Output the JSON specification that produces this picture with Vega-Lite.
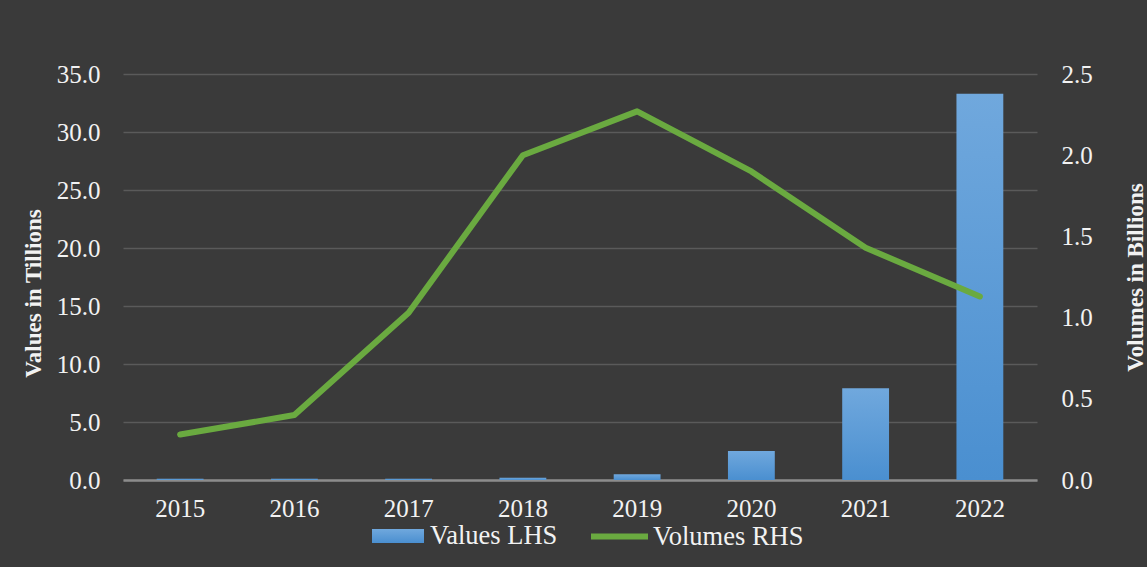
{
  "$schema": "https://vega.github.io/schema/vega-lite/v6.json",
  "autosize": {"type": "none"},
  "width": 914,
  "height": 406,
  "padding": {"left": 123, "top": 74, "right": 110, "bottom": 87},
  "background": "#3a3a3a",
  "config": {
    "view": {"stroke": null},
    "font": "Liberation Serif",
    "axis": {"labelFont": "Liberation Serif", "titleFont": "Liberation Serif", "labelColor": "#f2f2f2", "titleColor": "#f2f2f2", "labelFontSize": 25, "titleFontSize": 23, "titleFontWeight": "bold", "ticks": false},
    "legend": {"labelFont": "Liberation Serif", "labelFontSize": 26.5, "labelColor": "#f2f2f2", "title": null}
  },
  "data": {"values": [
    {"year": "2015", "values": 0.1, "volumes": 0.28},
    {"year": "2016", "values": 0.1, "volumes": 0.40},
    {"year": "2017", "values": 0.1, "volumes": 1.03},
    {"year": "2018", "values": 0.2, "volumes": 2.0},
    {"year": "2019", "values": 0.5, "volumes": 2.27},
    {"year": "2020", "values": 2.5, "volumes": 1.90},
    {"year": "2021", "values": 7.9, "volumes": 1.43},
    {"year": "2022", "values": 33.3, "volumes": 1.13}
  ]},
  "encoding": {
    "x": {"field": "year", "type": "ordinal", "scale": {"paddingInner": 0.59, "paddingOuter": 0.295},
      "axis": {"title": null, "labelAngle": 0, "labelPadding": 16, "domainColor": "#8c8c8c", "domainWidth": 2.5, "grid": false}}
  },
  "layer": [
    {
      "mark": {"type": "bar", "fill": {"gradient": "linear", "x1": 0, "y1": 0, "x2": 0, "y2": 1, "stops": [{"offset": 0, "color": "#70a8dd"}, {"offset": 1, "color": "#4a8fd0"}]}},
      "encoding": {
        "y": {"field": "values", "type": "quantitative", "scale": {"domain": [0, 35]},
          "axis": {"title": "Values in Tillions", "values": [0, 5, 10, 15, 20, 25, 30, 35], "format": ".1f", "labelPadding": 23, "titlePadding": 11, "titleY": 219, "domain": false, "grid": true, "gridColor": "#5a5a5a", "gridWidth": 1.5}},
        "opacity": {"datum": "Values LHS", "type": "nominal", "scale": {"range": [1]},
          "legend": {"orient": "none", "legendX": 249, "legendY": 436, "symbolType": "M-1,-0.27H1V0.27H-1Z", "symbolSize": 2704, "symbolFillColor": "#5b9bd5", "symbolStrokeWidth": 0, "labelOffset": 6}}
      }
    },
    {
      "mark": {"type": "line", "strokeWidth": 6, "strokeCap": "round", "strokeJoin": "round"},
      "encoding": {
        "y": {"field": "volumes", "type": "quantitative", "scale": {"domain": [0, 2.5]},
          "axis": {"title": "Volumes in Billions", "orient": "right", "values": [0, 0.5, 1, 1.5, 2, 2.5], "format": ".1f", "labelPadding": 24, "titlePadding": 32, "titleY": 203, "titleAngle": -90, "titleBaseline": "top", "domain": false, "grid": false}},
        "stroke": {"datum": "Volumes RHS", "type": "nominal", "scale": {"range": ["#6aaa40"]},
          "legend": {"orient": "none", "legendX": 465, "legendY": 431, "symbolType": "stroke", "symbolSize": 3249, "symbolStrokeWidth": 6, "labelOffset": 2}}
      }
    }
  ],
  "resolve": {"scale": {"y": "independent", "opacity": "independent", "stroke": "independent"}, "legend": {"opacity": "independent", "stroke": "independent"}}
}
